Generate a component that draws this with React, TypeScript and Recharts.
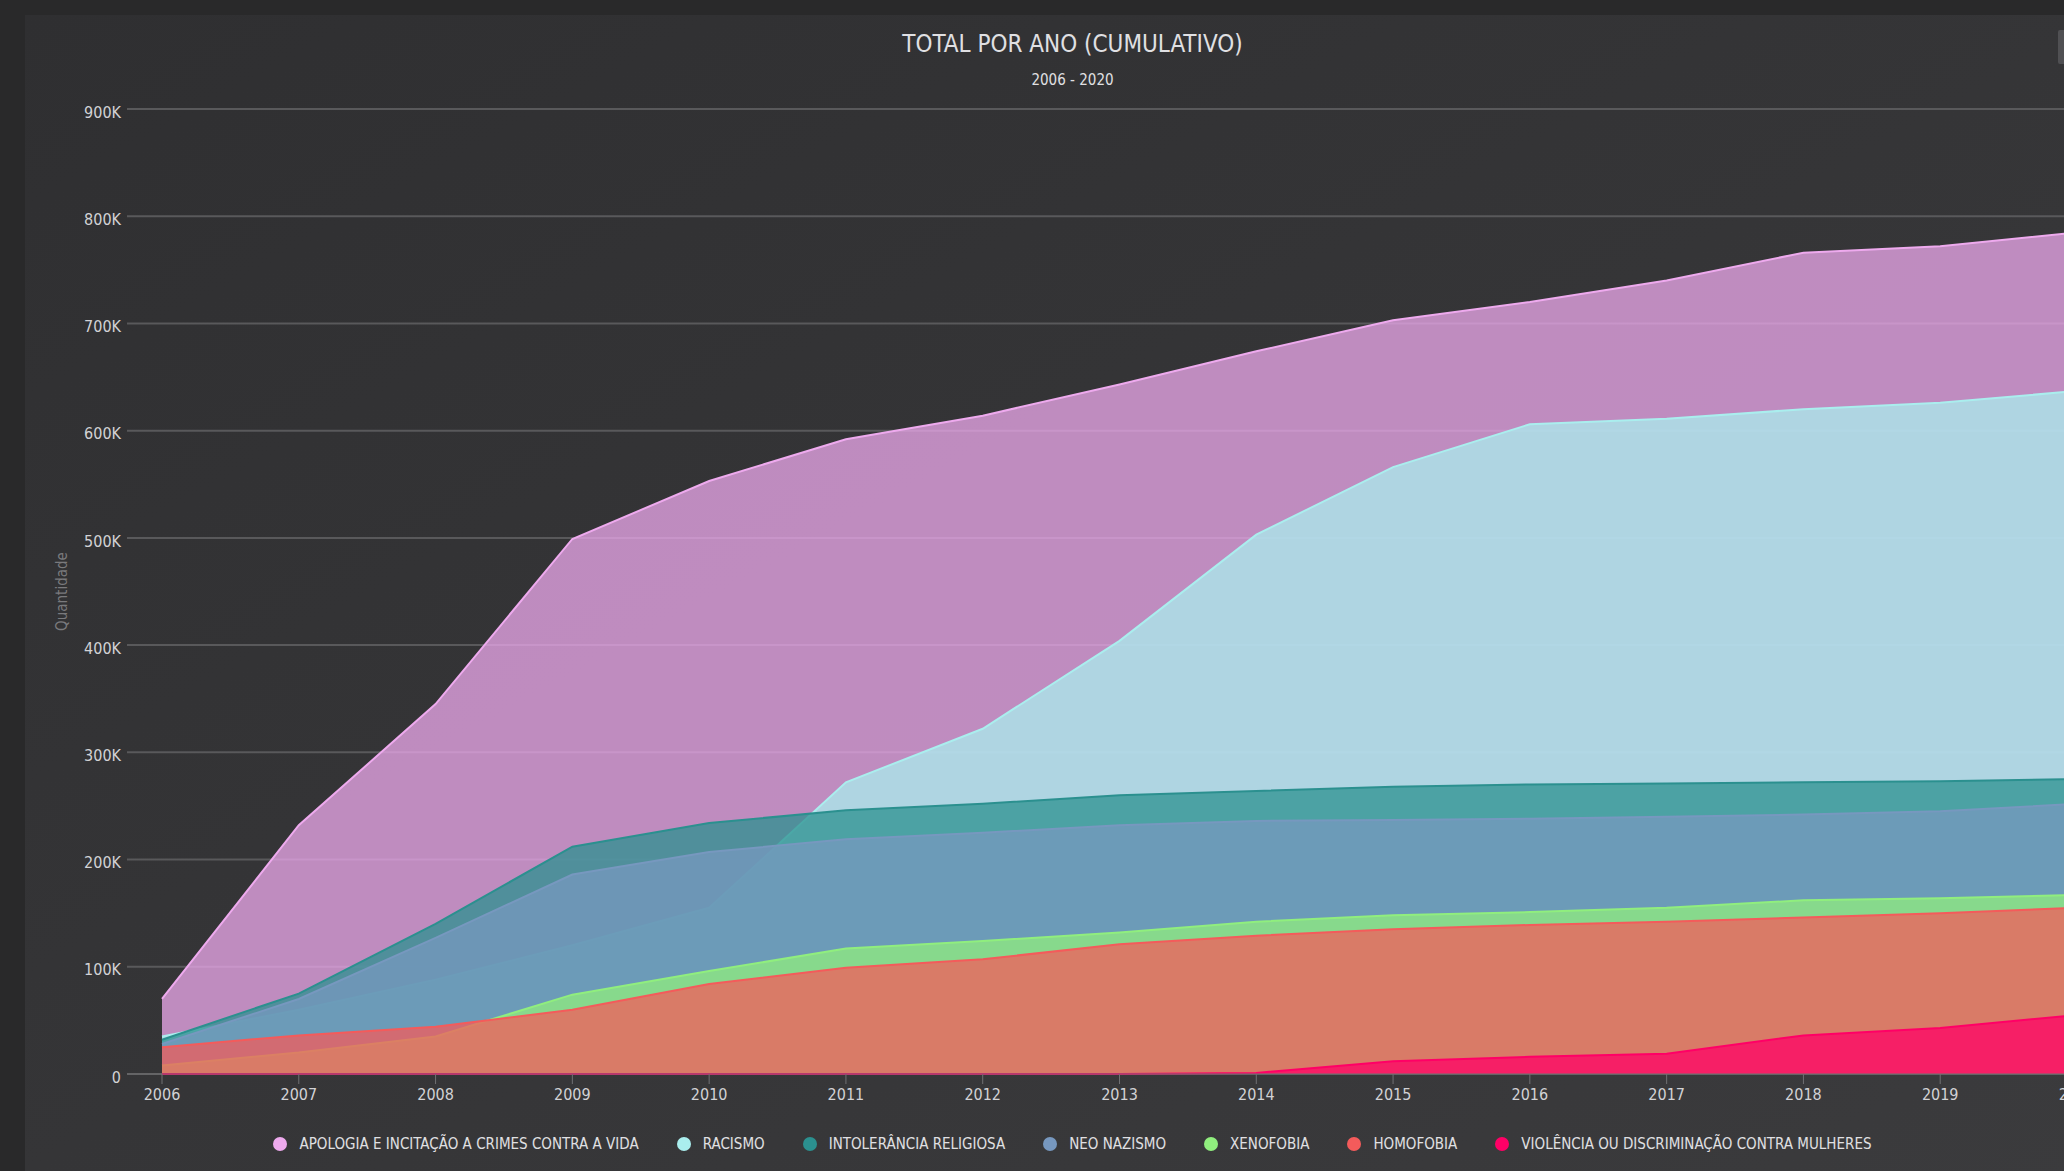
import React from "react"
import {
  AreaChart, Area, XAxis, YAxis, CartesianGrid
} from "recharts"

const anos = ["2006", "2007", "2008", "2009", "2010", "2011", "2012", "2013", "2014", "2015", "2016", "2017", "2018", "2019", "2020"]

const apologia = [70000, 232000, 345000, 499000, 553000, 592000, 614000, 643000, 674000, 703000, 720000, 740000, 766000, 772000, 785000]
const racismo = [35000, 60000, 88000, 120000, 155000, 272000, 322000, 404000, 503000, 566000, 606000, 611000, 620000, 626000, 637000]
const intolerancia = [32000, 75000, 140000, 212000, 234000, 246000, 252000, 260000, 264000, 268000, 270000, 271000, 272000, 273000, 275000]
const neoNazismo = [28000, 70000, 127000, 186000, 207000, 219000, 225000, 232000, 236000, 237000, 238000, 240000, 242000, 245000, 252000]
const xenofobia = [8000, 20000, 35000, 74000, 96000, 117000, 124000, 132000, 142000, 148000, 151000, 155000, 162000, 164000, 167000]
const homofobia = [25000, 36000, 44000, 60000, 84000, 99000, 107000, 121000, 129000, 135000, 139000, 142000, 146000, 150000, 155000]
const violencia = [0, 0, 0, 0, 0, 0, 0, 0, 1000, 12000, 16000, 19000, 36000, 43000, 55000]

const yTicks = [0, 100000, 200000, 300000, 400000, 500000, 600000, 700000, 800000, 900000]

const series = [
  { key: "apologia", nome: "Apologia e incitação a crimes contra a vida", cor: "#eeaaee", valores: apologia },
  { key: "racismo", nome: "Racismo", cor: "#aaeeee", valores: racismo },
  { key: "intolerancia", nome: "Intolerância religiosa", cor: "#2b908f", valores: intolerancia },
  { key: "neoNazismo", nome: "Neo nazismo", cor: "#7798BF", valores: neoNazismo },
  { key: "xenofobia", nome: "Xenofobia", cor: "#90ee7e", valores: xenofobia },
  { key: "homofobia", nome: "Homofobia", cor: "#f45b5b", valores: homofobia },
  { key: "violencia", nome: "Violência ou discriminação contra mulheres", cor: "#ff0066", valores: violencia },
]

const data = anos.map((ano, i) => {
  const row: Record<string, string | number> = { ano }
  series.forEach(s => { row[s.key] = s.valores[i] })
  return row
})

const FONT = "'Liberation Sans Narrow', 'DejaVu Sans Condensed', 'Roboto Condensed', 'Liberation Sans', sans-serif"
const TEXT = "#E0E0E3"

function YLabel({ viewBox }: any) {
  const x = viewBox.x + 37
  const y = viewBox.y + viewBox.height / 2
  return (
    <text x={x} y={y} transform={`rotate(-90 ${x} ${y})`} textAnchor="middle" dominantBaseline="middle"
      fill="#7a7a7d" fontSize={15} fontFamily={FONT} style={{ fontStretch: "condensed" }}>
      Quantidade
    </text>
  )
}

export default function App() {
  return (
    <div style={{ position: "fixed", left: 0, top: 0, width: 2064, height: 1171, overflow: "hidden", background: "#29292a" }}>
      <div style={{
        position: "absolute", left: 25, top: 15, width: 2095, height: 1156,
        background: "linear-gradient(to bottom right, #2f2f31, #3b3b3d)", fontFamily: FONT, fontStretch: "condensed"
      }}>
        <div style={{ position: "absolute", top: 15, left: 0, width: "100%", textAlign: "center", color: TEXT, fontSize: 24, textTransform: "uppercase", lineHeight: "28px" }}>
          Total por ano (cumulativo)
        </div>
        <div style={{ position: "absolute", top: 56, left: 0, width: "100%", textAlign: "center", color: TEXT, fontSize: 15, lineHeight: "18px" }}>
          2006 - 2020
        </div>
        <div style={{ position: "absolute", left: 2033, top: 15, width: 24, height: 34, background: "#505053", borderRadius: 2 }} />

        <AreaChart width={2095} height={1156} data={data} margin={{ top: 94, right: 8, left: 0, bottom: 0 }}>
          <CartesianGrid horizontal vertical={false} stroke="#59595b" strokeWidth={2} />
          <XAxis
            dataKey="ano"
            interval={0}
            height={97}
            padding={{ left: 35, right: 35 }}
            axisLine={{ stroke: "#707073" }}
            tickLine={{ stroke: "#707073" }}
            tickSize={10}
            tickMargin={5}
            tick={{ fill: "#d2d2d5", fontSize: 16, fontFamily: FONT }}
          />
          <YAxis
            type="number"
            domain={[0, 900000]}
            ticks={yTicks}
            interval={0}
            width={102}
            axisLine={false}
            tickLine={false}
            tickSize={0}
            tickMargin={6}
            tick={{ fill: "#d2d2d5", fontSize: 16, fontFamily: FONT, dy: 3 }}
            tickFormatter={v => (v === 0 ? "0" : v / 1000 + "K")}
            label={<YLabel />}
          />
          {series.map(s => (
            <Area
              key={s.key}
              type="linear"
              dataKey={s.key}
              name={s.nome}
              stroke={s.cor}
              strokeWidth={2}
              fill={s.cor}
              fillOpacity={0.75}
              dot={false}
              activeDot={false}
              isAnimationActive={false}
            />
          ))}
        </AreaChart>

        <div style={{
          position: "absolute", top: 1118, left: 0, width: "100%", display: "flex", justifyContent: "center",
          alignItems: "center", gap: 38, color: TEXT, fontSize: 15, textTransform: "uppercase"
        }}>
          {series.map(s => (
            <div key={s.key} style={{ display: "flex", alignItems: "center", gap: 12, lineHeight: "22px" }}>
              <span style={{ width: 14, height: 14, borderRadius: 7, background: s.cor, display: "inline-block" }} />
              <span>{s.nome}</span>
            </div>
          ))}
        </div>
      </div>
    </div>
  )
}
